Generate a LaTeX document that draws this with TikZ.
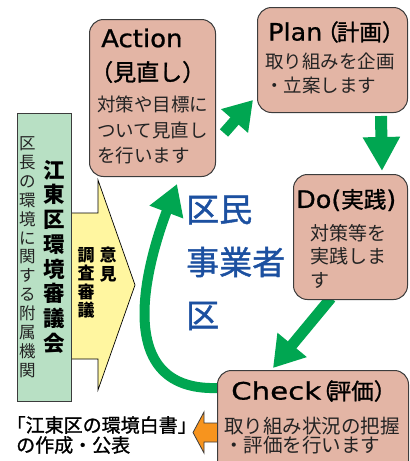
\documentclass[tikz,border=0pt]{standalone}
\usepackage{fontspec}
\setmainfont{Noto Sans CJK JP}
\newfontfamily\cjk{Noto Sans CJK JP}
\newfontfamily\cjkm[FakeBold=1.2]{Noto Sans CJK JP}
\newfontfamily\lat[FakeStretch=1.06, FakeBold=0.8]{DejaVu Sans}
\newfontfamily\latw[FakeStretch=1.22, FakeBold=0.8]{DejaVu Sans}
\usetikzlibrary{arrows.meta}
\definecolor{salmon}{RGB}{227,181,165}
\definecolor{pdgreen}{RGB}{0,166,81}
\definecolor{lgreen}{RGB}{184,224,196}
\definecolor{lyellow}{RGB}{255,246,160}
\definecolor{dblue}{RGB}{28,80,160}
\definecolor{orng}{RGB}{247,148,30}
\definecolor{edge}{RGB}{60,60,60}
\definecolor{txt}{RGB}{35,35,35}
\begin{document}
\begin{tikzpicture}[x=1pt,y=-1pt,
  box/.style={draw=edge, line width=1pt, fill=salmon, rounded corners=14pt, anchor=north west, inner sep=0pt},
  ttl/.style={anchor=west, inner sep=0pt, text=black},
  body/.style={anchor=west, inner sep=0pt, text=txt, font=\fontsize{18.5}{22}\cjk},
  garrow/.style={draw=pdgreen, line width=11pt, -{Triangle[width=34pt,length=28pt]}},
  vtxt/.style={anchor=north, inner sep=0pt, align=center},
]
\useasboundingbox (0,0) rectangle (410,461);
\clip (0,0) rectangle (410,461);

% coordinates for arrow ends
\coordinate (a1s) at (224,133);
\coordinate (a1e) at (253,100);
\coordinate (a2s) at (381,116);
\coordinate (a2e) at (382,171);
\coordinate (a3s) at (331,298);
\coordinate (a3e) at (273,368);
\coordinate (a4s) at (218,388);
\coordinate (a4e) at (177,184);

% green arrows
\draw[garrow] (a1s) -- (a1e);
\draw[garrow, line width=12pt, -{Triangle[width=35pt,length=34pt]}] (a2s) -- (a2e);
\draw[garrow, -{Triangle[width=36pt,length=30pt]}] (a3s) -- (a3e);
\draw[garrow, line width=10pt, -{Triangle[width=34pt,length=30pt]}] (a4s) .. controls (105,392) and (152,250) .. (a4e);

% orange arrow
\draw[draw=edge, fill=orng, line width=0.8pt] (219,423) -- (204,423) -- (204,412) -- (193,432.5) -- (204,453) -- (204,442) -- (219,442);

% yellow arrow
\draw[draw=black, fill=lyellow, line width=0.7pt] (71,213) -- (98,213) -- (98,180) -- (135,285) -- (98,390) -- (98,359) -- (71,359) -- cycle;

% green rect
\node[draw=edge, line width=1pt, fill=lgreen, anchor=north west, minimum width=54pt, minimum height=288pt, inner sep=0pt] (council) at (17,113) {};

% boxes
\node[box, minimum width=126pt, minimum height=157pt] (act) at (89,19) {};
\node[box, minimum width=150pt, minimum height=105pt] (plan) at (257,7) {};
\node[box, minimum width=114pt, minimum height=125pt] (do) at (293,174) {};
\node[box, minimum width=191pt, minimum height=110pt] (chk) at (217,370) {};

% Action texts
\node[ttl, font=\fontsize{24.5}{28}\lat] (actT) at (101,38) {Action};
\node[ttl, font=\fontsize{23}{26}\cjkm] (actT2) at (90,72) {（見直し）};
\node[body] (actB1) at (97,104) {対策や目標に};
\node[body] (actB2) at (97,130) {ついて見直し};
\node[body] (actB3) at (97,155) {を行います};

% Plan texts
\node[ttl] (planT) at (268,32) {{\fontsize{24}{28}\lat Plan}\kern-6pt{\fontsize{22.5}{26}\cjkm （\kern-2pt計画）}};
\node[body] (planB1) at (265,61) {取り組みを企画};
\node[body] (planB2) at (265,85) {・立案します};

% Do texts
\node[ttl] (doT) at (296,200) {{\fontsize{24}{28}\lat Do(}{\fontsize{22.5}{26}\cjkm 実践}{\fontsize{24}{28}\lat )}};
\node[body, font=\fontsize{19}{22}\cjk] (doB1) at (310,233) {対策等を};
\node[body, font=\fontsize{19}{22}\cjk] (doB2) at (310,256) {実践しま};
\node[body, font=\fontsize{19}{22}\cjk] (doB3) at (310,280) {す};

% Check texts
\node[ttl] (chkT) at (231,391) {{\fontsize{24}{28}\latw Check}\kern-10pt{\fontsize{22.5}{26}\cjkm （\kern-5pt評価）}};
\node[body, font=\fontsize{19.5}{22}\cjk] (chkB1) at (224,426) {取り組み状況の把握};
\node[body, font=\fontsize{19.5}{22}\cjk] (chkB2) at (224,445) {・評価を行います};

% centre blue text
\node[ttl, text=dblue, font=\fontsize{33}{36}\cjkm] (who1) at (186,210) {区民};
\node[ttl, text=dblue, font=\fontsize{33}{36}\cjkm] (who2) at (186,262) {事業者};
\node[ttl, text=dblue, font=\fontsize{33}{36}\cjkm] (who3) at (186,316) {区};

% vertical texts
\node[vtxt, text=txt, font=\fontsize{16.5}{18.9}\cjk] (cL) at (27.5,136.5) {区\\長\\の\\環\\境\\に\\関\\す\\る\\附\\属\\機\\関};
\node[vtxt, text=black, font=\fontsize{21.5}{24.7}\cjk\bfseries] (cR) at (54,160) {江\\東\\区\\環\\境\\審\\議\\会};
\node[vtxt, text=black, font=\fontsize{17}{18.5}\cjk\bfseries] (y1) at (108,247) {意\\見};
\node[vtxt, text=black, font=\fontsize{17}{18.5}\cjk\bfseries] (y2) at (86,247) {調\\査\\審\\議};

% bottom-left text
\node[ttl, font=\fontsize{19}{22}\cjkm] (rep1) at (6.5,425) {「江東区の環境白書」};
\node[ttl, font=\fontsize{19}{22}\cjkm] (rep2) at (16,445) {の作成・公表};
\end{tikzpicture}
\end{document}
